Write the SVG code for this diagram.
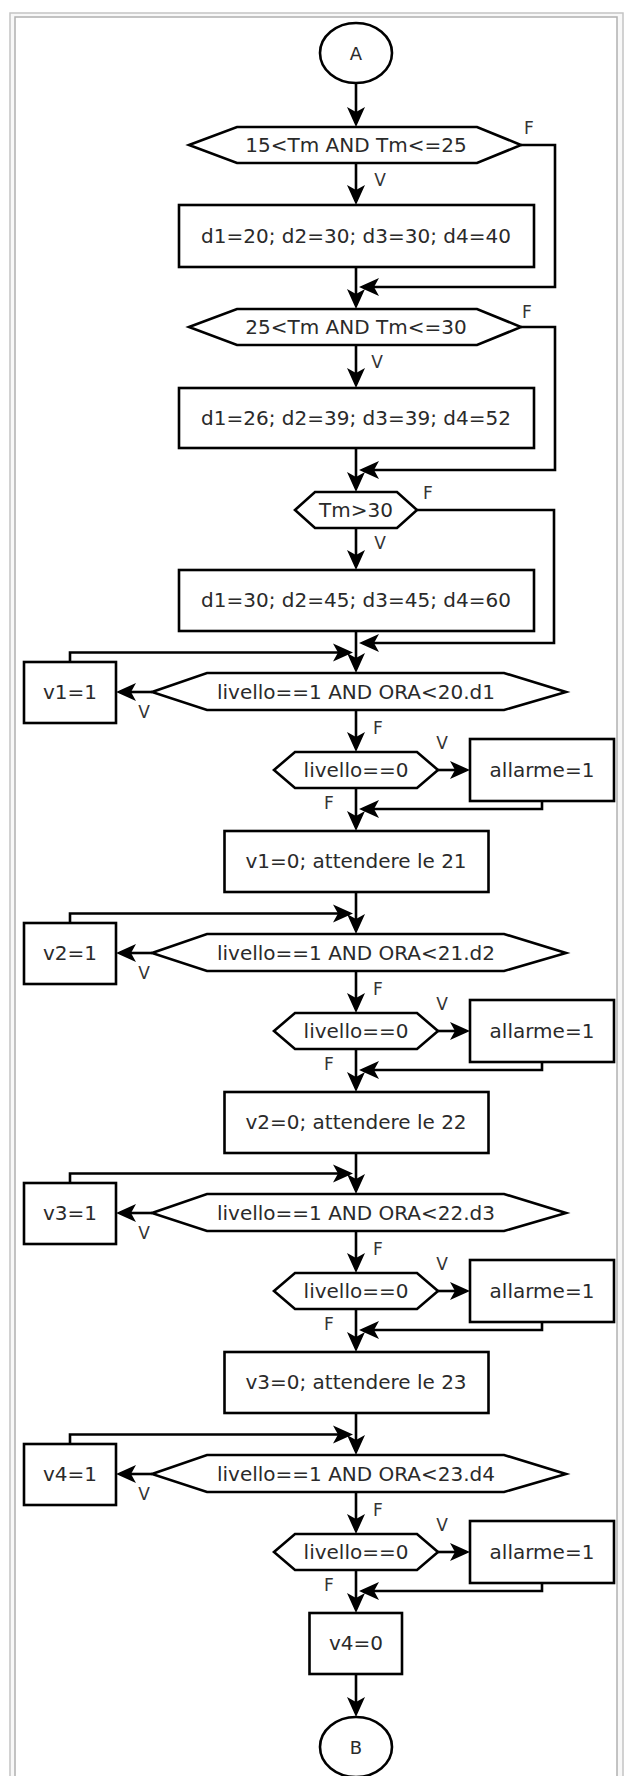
<svg xmlns="http://www.w3.org/2000/svg" width="627" height="1776" viewBox="0 0 627 1776">
<style>
.s{fill:#fff;stroke:#000;stroke-width:2.6;stroke-linejoin:miter}
.c{fill:none;stroke:#000;stroke-width:2.6}
.t{font-family:"DejaVu Sans",sans-serif;font-size:20px;fill:#2a2a2a;text-anchor:middle}
.l{font-family:"DejaVu Sans",sans-serif;font-size:17px;fill:#333;text-anchor:middle}
</style>
<defs>
<marker id="ah" viewBox="0 0 20 20" refX="16" refY="10" markerWidth="20" markerHeight="20" markerUnits="userSpaceOnUse" orient="auto">
<path d="M0,1 L20,10 L0,19 L5,10 Z" fill="#000"/>
</marker>
</defs>
<rect x="10" y="13" width="613" height="1790" fill="#f8f8f8" stroke="#c4c4c4" stroke-width="1.5"/>
<rect x="15" y="17" width="602" height="1790" fill="#fff" stroke="#b0b0b0" stroke-width="1.5"/>

<g id="connectors">
<path class="c" marker-end="url(#ah)" d="M356,83 V123"/>
<path class="c" marker-end="url(#ah)" d="M521,145 H555 V287 H363"/>
<path class="c" marker-end="url(#ah)" d="M356,163 V201"/>
<path class="c" marker-end="url(#ah)" d="M356,267 V305"/>
<path class="c" marker-end="url(#ah)" d="M521,327 H555 V470 H363"/>
<path class="c" marker-end="url(#ah)" d="M356,345 V384"/>
<path class="c" marker-end="url(#ah)" d="M356,448 V488"/>
<path class="c" marker-end="url(#ah)" d="M417,510 H554 V643 H363"/>
<path class="c" marker-end="url(#ah)" d="M356,528 V566"/>
<path class="c" marker-end="url(#ah)" d="M356,631 V669"/>
<!-- cycle 1 c=692 -->
<path class="c" marker-end="url(#ah)" d="M70,662 V652.5 H349"/>
<path class="c" marker-end="url(#ah)" d="M152,692 H120"/>
<path class="c" marker-end="url(#ah)" d="M356,710 V748"/>
<path class="c" marker-end="url(#ah)" d="M438,770 H466"/>
<path class="c" marker-end="url(#ah)" d="M542,801 V809 H363"/>
<path class="c" marker-end="url(#ah)" d="M356,788 V827"/>
<path class="c" marker-end="url(#ah)" d="M356,892 V930"/>
<!-- cycle 2 c=953 -->
<path class="c" marker-end="url(#ah)" d="M70,923 V913.5 H349"/>
<path class="c" marker-end="url(#ah)" d="M152,953 H120"/>
<path class="c" marker-end="url(#ah)" d="M356,971 V1009"/>
<path class="c" marker-end="url(#ah)" d="M438,1031 H466"/>
<path class="c" marker-end="url(#ah)" d="M542,1062 V1070 H363"/>
<path class="c" marker-end="url(#ah)" d="M356,1049 V1088"/>
<path class="c" marker-end="url(#ah)" d="M356,1153 V1190"/>
<!-- cycle 3 c=1213 -->
<path class="c" marker-end="url(#ah)" d="M70,1183 V1173.5 H349"/>
<path class="c" marker-end="url(#ah)" d="M152,1213 H120"/>
<path class="c" marker-end="url(#ah)" d="M356,1231 V1269"/>
<path class="c" marker-end="url(#ah)" d="M438,1291 H466"/>
<path class="c" marker-end="url(#ah)" d="M542,1322 V1330 H363"/>
<path class="c" marker-end="url(#ah)" d="M356,1309 V1348"/>
<path class="c" marker-end="url(#ah)" d="M356,1413 V1451"/>
<!-- cycle 4 c=1474 -->
<path class="c" marker-end="url(#ah)" d="M70,1444 V1434.5 H349"/>
<path class="c" marker-end="url(#ah)" d="M152,1474 H120"/>
<path class="c" marker-end="url(#ah)" d="M356,1492 V1530"/>
<path class="c" marker-end="url(#ah)" d="M438,1552 H466"/>
<path class="c" marker-end="url(#ah)" d="M542,1583 V1591 H363"/>
<path class="c" marker-end="url(#ah)" d="M356,1570 V1609"/>
<path class="c" marker-end="url(#ah)" d="M356,1674 V1713"/>
</g>

<g id="labels">
<text class="l" x="529" y="134">F</text>
<text class="l" x="380" y="186">V</text>
<text class="l" x="527" y="318">F</text>
<text class="l" x="377" y="368">V</text>
<text class="l" x="428" y="499">F</text>
<text class="l" x="380" y="549">V</text>
<text class="l" x="144" y="718">V</text>
<text class="l" x="378" y="734">F</text>
<text class="l" x="442" y="749">V</text>
<text class="l" x="329" y="809">F</text>
<text class="l" x="144" y="979">V</text>
<text class="l" x="378" y="995">F</text>
<text class="l" x="442" y="1010">V</text>
<text class="l" x="329" y="1070">F</text>
<text class="l" x="144" y="1239">V</text>
<text class="l" x="378" y="1255">F</text>
<text class="l" x="442" y="1270">V</text>
<text class="l" x="329" y="1330">F</text>
<text class="l" x="144" y="1500">V</text>
<text class="l" x="378" y="1516">F</text>
<text class="l" x="442" y="1531">V</text>
<text class="l" x="329" y="1591">F</text>
</g>

<g id="startA"><ellipse class="s" cx="356" cy="53" rx="36" ry="30"/><text class="t" x="356" y="60" style="font-size:18px">A</text></g>
<g id="dec1"><polygon class="s" points="189,145 237,127 477,127 521,145 477,163 237,163"/><text class="t" x="356" y="152">15&lt;Tm AND Tm&lt;=25</text></g>
<g id="proc1"><rect class="s" x="179" y="205" width="355" height="62"/><text class="t" x="356" y="243">d1=20; d2=30; d3=30; d4=40</text></g>
<g id="dec2"><polygon class="s" points="189,327 237,309 477,309 521,327 477,345 237,345"/><text class="t" x="356" y="334">25&lt;Tm AND Tm&lt;=30</text></g>
<g id="proc2"><rect class="s" x="179" y="388" width="355" height="60"/><text class="t" x="356" y="425">d1=26; d2=39; d3=39; d4=52</text></g>
<g id="dec3"><polygon class="s" points="295,510 315,492 397,492 417,510 397,528 315,528"/><text class="t" x="356" y="517">Tm&gt;30</text></g>
<g id="proc3"><rect class="s" x="179" y="570" width="355" height="61"/><text class="t" x="356" y="607">d1=30; d2=45; d3=45; d4=60</text></g>

<g id="v1on"><rect class="s" x="24" y="662" width="92" height="61"/><text class="t" x="70" y="699">v1=1</text></g>
<g id="dec4"><polygon class="s" points="152,692 207,673 504,673 566,692 504,710 207,710"/><text class="t" x="356" y="699">livello==1 AND ORA&lt;20.d1</text></g>
<g id="lev1"><polygon class="s" points="274,770 295,752 417,752 438,770 417,788 295,788"/><text class="t" x="356" y="777">livello==0</text></g>
<g id="alarm1"><rect class="s" x="470" y="739" width="144" height="62"/><text class="t" x="542" y="777">allarme=1</text></g>
<g id="wait1"><rect class="s" x="224.5" y="831" width="264" height="61"/><text class="t" x="356" y="868">v1=0; attendere le 21</text></g>

<g id="v2on"><rect class="s" x="24" y="923" width="92" height="61"/><text class="t" x="70" y="960">v2=1</text></g>
<g id="dec5"><polygon class="s" points="152,953 207,934 504,934 566,953 504,971 207,971"/><text class="t" x="356" y="960">livello==1 AND ORA&lt;21.d2</text></g>
<g id="lev2"><polygon class="s" points="274,1031 295,1013 417,1013 438,1031 417,1049 295,1049"/><text class="t" x="356" y="1038">livello==0</text></g>
<g id="alarm2"><rect class="s" x="470" y="1000" width="144" height="62"/><text class="t" x="542" y="1038">allarme=1</text></g>
<g id="wait2"><rect class="s" x="224.5" y="1092" width="264" height="61"/><text class="t" x="356" y="1129">v2=0; attendere le 22</text></g>

<g id="v3on"><rect class="s" x="24" y="1183" width="92" height="61"/><text class="t" x="70" y="1220">v3=1</text></g>
<g id="dec6"><polygon class="s" points="152,1213 207,1194 504,1194 566,1213 504,1231 207,1231"/><text class="t" x="356" y="1220">livello==1 AND ORA&lt;22.d3</text></g>
<g id="lev3"><polygon class="s" points="274,1291 295,1273 417,1273 438,1291 417,1309 295,1309"/><text class="t" x="356" y="1298">livello==0</text></g>
<g id="alarm3"><rect class="s" x="470" y="1260" width="144" height="62"/><text class="t" x="542" y="1298">allarme=1</text></g>
<g id="wait3"><rect class="s" x="224.5" y="1352" width="264" height="61"/><text class="t" x="356" y="1389">v3=0; attendere le 23</text></g>

<g id="v4on"><rect class="s" x="24" y="1444" width="92" height="61"/><text class="t" x="70" y="1481">v4=1</text></g>
<g id="dec7"><polygon class="s" points="152,1474 207,1455 504,1455 566,1474 504,1492 207,1492"/><text class="t" x="356" y="1481">livello==1 AND ORA&lt;23.d4</text></g>
<g id="lev4"><polygon class="s" points="274,1552 295,1534 417,1534 438,1552 417,1570 295,1570"/><text class="t" x="356" y="1559">livello==0</text></g>
<g id="alarm4"><rect class="s" x="470" y="1521" width="144" height="62"/><text class="t" x="542" y="1559">allarme=1</text></g>
<g id="wait4"><rect class="s" x="309.5" y="1613" width="92.5" height="61"/><text class="t" x="356" y="1650">v4=0</text></g>

<g id="endB"><ellipse class="s" cx="356" cy="1747" rx="36" ry="30"/><text class="t" x="356" y="1754" style="font-size:18px">B</text></g>
</svg>
